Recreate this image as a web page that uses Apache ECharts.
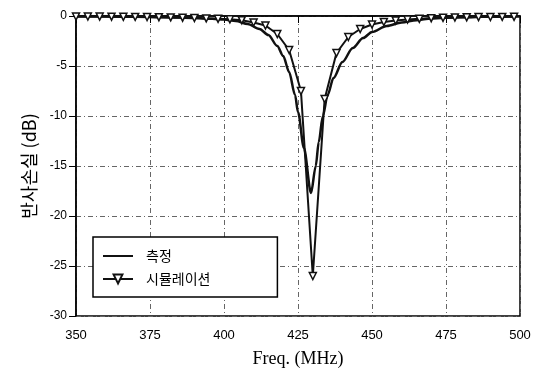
<!DOCTYPE html>
<html>
<head>
<meta charset="utf-8">
<script src="https://cdn.jsdelivr.net/npm/echarts@6/dist/echarts.min.js"></script>
<style>
  html, body { margin: 0; padding: 0; background: #fff; }
  #chart { width: 547px; height: 380px; }
</style>
</head>
<body>
<div id="chart"></div>
<script>
var measFreq = [350, 360, 370, 380, 390, 396, 400, 404, 408, 412, 415, 418, 420, 422, 424, 425, 427, 429.4, 431, 432, 433.4, 435, 437, 440, 443.5, 447, 450, 455, 460, 465, 470, 480, 490, 500];
var measVal  = [-0.05, -0.06, -0.08, -0.12, -0.2, -0.28, -0.35, -0.5, -0.8, -1.3, -1.9, -3.0, -4.0, -5.6, -7.9, -9.6, -13.2, -17.7, -15.0, -12.6, -10.0, -7.9, -6.2, -4.6, -3.2, -2.2, -1.6, -1.0, -0.65, -0.42, -0.25, -0.12, -0.06, -0.04];

// 시뮬레이션 (simulated), one marker every 4 MHz
var simFreq = [350, 354, 358, 362, 366, 370, 374, 378, 382, 386, 390, 394, 398, 402, 406, 410, 414, 418, 422, 426, 430, 434, 438, 442, 446, 450, 454, 458, 462, 466, 470, 474, 478, 482, 486, 490, 494, 498];
var simVal  = [-0.05, -0.05, -0.06, -0.07, -0.08, -0.09, -0.1, -0.12, -0.14, -0.17, -0.2, -0.24, -0.28, -0.33, -0.42, -0.65, -0.95, -1.8, -3.4, -7.5, -26.0, -8.3, -3.7, -2.1, -1.3, -0.85, -0.6, -0.45, -0.35, -0.28, -0.22, -0.18, -0.15, -0.13, -0.11, -0.1, -0.09, -0.08];

var xTicks = [350, 375, 400, 425, 450, 475, 500];
var yTicks = [-30, -25, -20, -15, -10, -5, 0];

function pairs(xs, ys) {
    return xs.map(function (x, i) { return [x, ys[i]]; });
}

var chart = echarts.init(document.getElementById('chart'));

var gridLine = { show: true, lineStyle: { color: '#666', width: 1, type: [5, 3, 1, 3] } };

var option = {
    backgroundColor: '#fff',
    animation: false,
    grid: {
        left: 76, right: 27, top: 16, bottom: 64,
        show: true, borderColor: '#000', borderWidth: 1.5, backgroundColor: 'transparent'
    },
    legend: {
        orient: 'vertical',
        left: 93, top: 237,
        padding: [12, 67, 11, 9],
        itemGap: 9,
        itemWidth: 30, itemHeight: 11,
        backgroundColor: '#fff',
        borderColor: '#000', borderWidth: 1.5,
        textStyle: { color: '#000', fontSize: 14, fontFamily: 'Noto Sans CJK KR', padding: [0, 0, 0, 8] },
        data: [
            { name: '측정', itemStyle: { opacity: 0 } },
            { name: '시뮬레이션' }
        ]
    },
    xAxis: {
        type: 'value',
        min: xTicks[0], max: xTicks[xTicks.length - 1], interval: 25,
        name: 'Freq. (MHz)',
        nameLocation: 'middle', nameGap: 34,
        nameTextStyle: { color: '#000', fontSize: 18, fontFamily: 'Liberation Serif' },
        axisLine: { lineStyle: { color: '#000', width: 1.5 } },
        axisTick: { show: true, length: 7, lineStyle: { color: '#000' } },
        axisLabel: { color: '#000', fontSize: 13, fontFamily: 'Liberation Sans', margin: 13 },
        splitLine: gridLine
    },
    yAxis: {
        type: 'value',
        min: yTicks[0], max: yTicks[yTicks.length - 1], interval: 5,
        name: '반사손실 (dB)',
        nameLocation: 'middle', nameGap: 38, nameRotate: 90,
        nameTextStyle: { color: '#000', fontSize: 18, fontFamily: 'Noto Sans CJK KR' },
        axisLine: { lineStyle: { color: '#000', width: 1.5 } },
        axisTick: { show: true, length: 7, lineStyle: { color: '#000' } },
        axisLabel: { color: '#000', fontSize: 12, fontFamily: 'Liberation Sans', margin: 9 },
        splitLine: gridLine
    },
    series: [
        {
            name: '측정',
            type: 'line',
            data: pairs(measFreq, measVal),
            smooth: 0.3,
            smoothMonotone: 'x',
            symbol: 'none',
            lineStyle: { color: '#111', width: 2.5 },
            itemStyle: { color: '#111' },
            z: 2
        },
        {
            name: '시뮬레이션',
            type: 'line',
            data: pairs(simFreq, simVal),
            symbol: 'triangle',
            symbolRotate: 180,
            symbolSize: 7,
            lineStyle: { color: '#111', width: 2 },
            itemStyle: { color: '#fff', borderColor: '#111', borderWidth: 1.5 },
            z: 3
        }
    ]
};

chart.setOption(option);
</script>
</body>
</html>
